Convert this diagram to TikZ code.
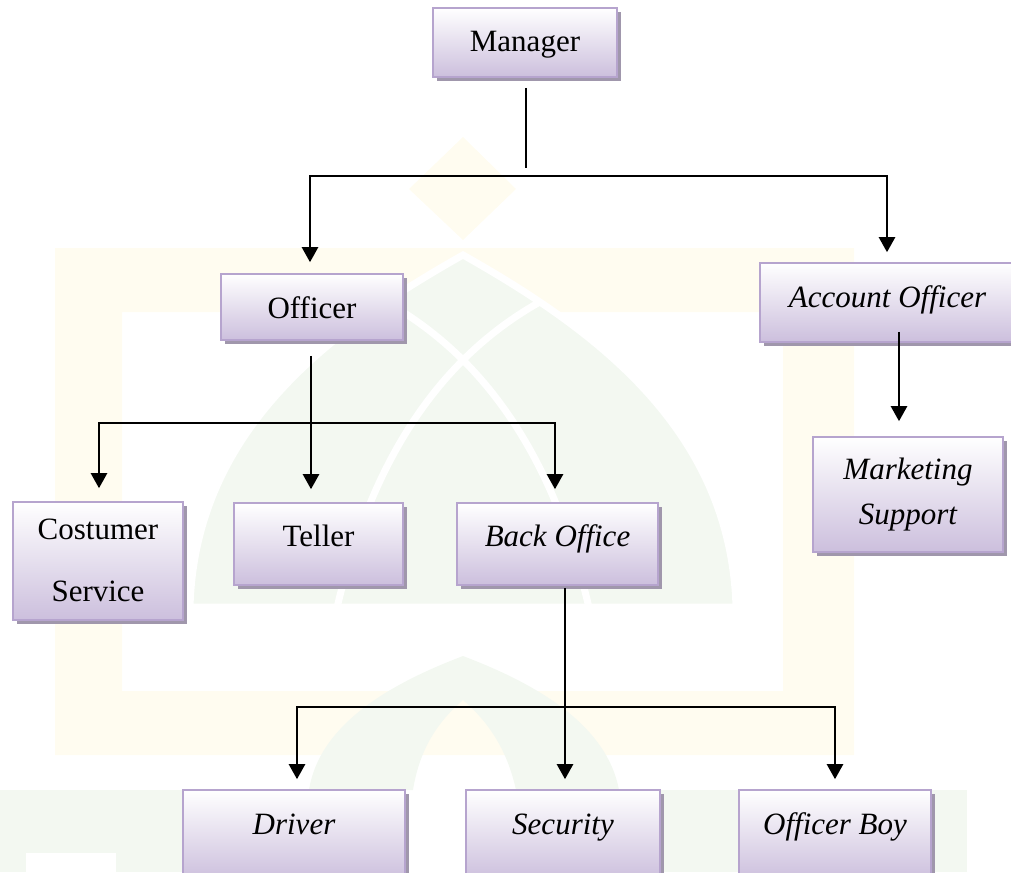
\documentclass[tikz,border=0pt]{standalone}
\usepackage{fontspec}
\setmainfont{Liberation Serif}
\usetikzlibrary{arrows.meta,shadows}
\definecolor{boxbot}{RGB}{204,191,221}
\definecolor{boxline}{RGB}{182,164,206}
\definecolor{boxshadow}{RGB}{160,151,172}
\definecolor{wmY}{RGB}{255,252,240}
\definecolor{wmG}{RGB}{243,248,241}
\tikzset{
  orgbox/.style={draw=boxline, line width=1.6pt, top color=white, bottom color=boxbot,
    inner sep=0pt, drop shadow={shadow xshift=4pt, shadow yshift=-4pt, fill=boxshadow, opacity=1}},
  lbl/.style={font=\fontsize{31}{37}\selectfont, inner sep=0pt, anchor=base},
  ilbl/.style={lbl, font=\fontsize{31}{37}\selectfont\itshape},
  conn/.style={line width=2.4pt, black},
  arr/.style={conn, -{Triangle[width=16pt,length=15pt]}},
  barr/.style={conn, {Triangle[width=16pt,length=15pt]}-{Triangle[width=16pt,length=15pt]}},
  wmgap/.style={draw=white, line width=7pt},
}
\begin{document}
\begin{tikzpicture}[x=1pt,y=-1pt]
\useasboundingbox (0,0) rectangle (1011,872);
% ---------- faint watermark ----------
\fill[wmY, even odd rule] (55,248) rectangle (854,755) (122,312) rectangle (783,691);
\fill[wmY] (463,137) -- (516,189) -- (463,240) -- (409,189) -- cycle;
\fill[wmG] (0,790) rectangle (187,872);
\fill[white] (26,853) rectangle (116,872);
\fill[wmG] (658,790) rectangle (967,872);
\begin{scope}
  \path[fill=wmG, draw=white, line width=7pt] (190,607) .. controls (195,430) and (330,330) .. (463,255)
     .. controls (596,330) and (731,430) .. (736,607) -- cycle;
  \clip (190,607) .. controls (195,430) and (330,330) .. (463,255)
     .. controls (596,330) and (731,430) .. (736,607) -- cycle;
  \draw[wmgap] (336,612) .. controls (380,420) and (480,300) .. (645,262);
  \draw[wmgap] (590,612) .. controls (546,420) and (446,300) .. (281,262);
\end{scope}
\fill[wmG] (309,790) .. controls (320,720) and (400,680) .. (463,656) .. controls (526,680) and (606,720) .. (619,790)
  -- (516,790) .. controls (505,740) and (480,715) .. (463,700) .. controls (446,715) and (421,740) .. (413,790) -- cycle;
% ---------- boxes ----------
\node[orgbox, minimum width=184pt, minimum height=69pt] (mgr) at (525,42.5) {};
\node[lbl] (mgr-t) at (525,52) {Manager};
\node[orgbox, minimum width=182pt, minimum height=66pt] (off) at (312,307) {};
\node[lbl] (off-t) at (312,318) {Officer};
\node[orgbox, minimum width=255pt, minimum height=79pt] (acc) at (887.5,302.5) {};
\node[ilbl] (acc-t) at (887.5,307) {Account Officer};
\node[orgbox, minimum width=170pt, minimum height=118pt] (cs) at (98,561) {};
\node[lbl] (cs-t1) at (98,539) {Costumer};
\node[lbl] (cs-t2) at (98,601) {Service};
\node[orgbox, minimum width=169pt, minimum height=82pt] (tel) at (318.5,544) {};
\node[lbl] (tel-t) at (318.5,546) {Teller};
\node[orgbox, minimum width=201pt, minimum height=82pt] (bo) at (557.5,544) {};
\node[ilbl] (bo-t) at (557.5,546) {Back Office};
\node[orgbox, minimum width=190pt, minimum height=115pt] (ms) at (908,494.5) {};
\node[ilbl] (ms-t1) at (908,479) {Marketing};
\node[ilbl] (ms-t2) at (908,524) {Support};
\node[orgbox, minimum width=222pt, minimum height=90pt] (drv) at (294,835) {};
\node[ilbl] (drv-t) at (294,834) {Driver};
\node[orgbox, minimum width=194pt, minimum height=90pt] (sec) at (563,835) {};
\node[ilbl] (sec-t) at (563,834) {Security};
\node[orgbox, minimum width=192pt, minimum height=90pt] (ob) at (835,835) {};
\node[ilbl] (ob-t) at (835,834) {Officer Boy};
% ---------- junction coordinates ----------
\coordinate (h1) at (0,176);
\coordinate (h2) at (0,423);
\coordinate (h3) at (0,707);
% ---------- connectors ----------
\draw[conn, line width=2pt] ([xshift=1pt,yshift=-10pt]mgr.south) -- ([xshift=1pt,yshift=8pt]mgr.south |- h1);
\draw[barr] ([xshift=-2pt,yshift=11pt]off.north) -- ([xshift=-2pt]off.north |- h1)
  -- ([xshift=-0.5pt]acc.north |- h1) -- ([xshift=-0.5pt,yshift=10pt]acc.north);
\draw[arr] ([xshift=-1pt,yshift=-15pt]off.south) -- ([xshift=-1pt,yshift=13pt]off.south |- tel.north);
\draw[barr] ([xshift=1pt,yshift=13pt]cs.north) -- ([xshift=1pt]cs.north |- h2)
  -- ([xshift=-2.5pt]bo.north |- h2) -- ([xshift=-2.5pt,yshift=13pt]bo.north);
\draw[arr] ([xshift=-9pt,yshift=11pt]acc.south -| ms.north) -- ([xshift=-9pt,yshift=15pt]ms.north);
\draw[arr] ([xshift=7.5pt,yshift=-2pt]bo.south) -- ([xshift=7.5pt,yshift=10pt]bo.south |- sec.north);
\draw[barr] ([xshift=3pt,yshift=10pt]drv.north) -- ([xshift=3pt]drv.north |- h3)
  -- ([xshift=0pt]ob.north |- h3) -- ([xshift=0pt,yshift=10pt]ob.north);
\end{tikzpicture}
\end{document}
